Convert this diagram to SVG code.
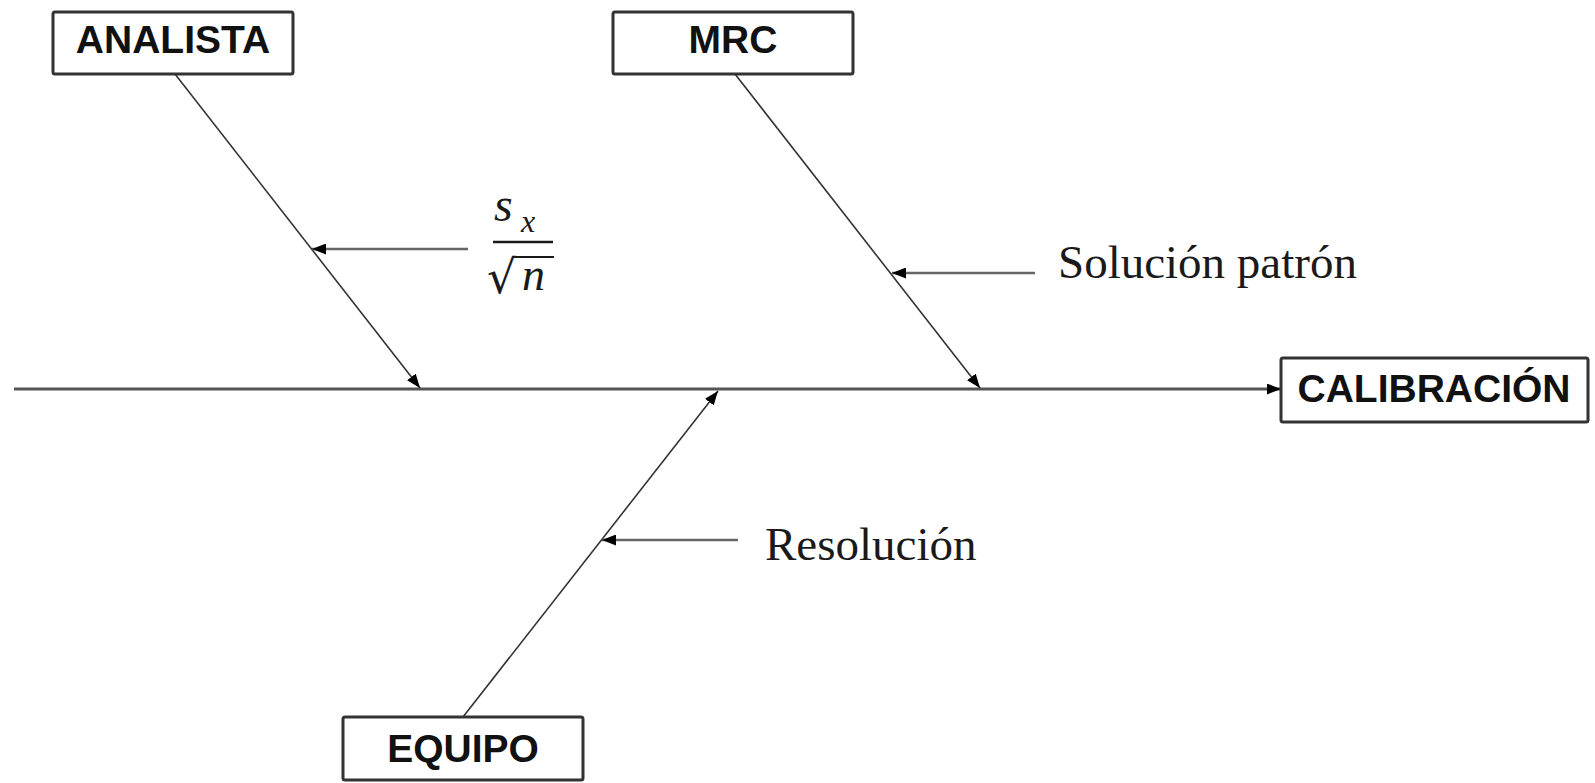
<svg xmlns="http://www.w3.org/2000/svg" width="1595" height="783" viewBox="0 0 1595 783">
<defs>
<style>
.box{fill:#fff;stroke:#333;stroke-width:3}
.lbl{font-family:"Liberation Sans",Arial,sans-serif;font-weight:bold;font-size:39px;fill:#111;text-anchor:middle}
.ser{font-family:"Liberation Serif","Times New Roman",serif;font-size:47px;fill:#1a1a1a}
.math{font-family:"Liberation Serif","Times New Roman",serif;font-style:italic;fill:#1a1a1a}
.br{stroke:#333;stroke-width:1.6;fill:none}
.main{stroke:#555;stroke-width:2.8;fill:none}
.sub{stroke:#666;stroke-width:2.4;fill:none}
</style>
<marker id="ah" viewBox="0 0 14 11" refX="14" refY="5.5" markerWidth="14" markerHeight="11" markerUnits="userSpaceOnUse" orient="auto">
<path d="M0,0 L14,5.5 L0,11 Z" fill="#000"/>
</marker>
</defs>
<rect width="1595" height="783" fill="#fff"/>
<g id="connectors">
<line class="main" x1="14" y1="389" x2="1281" y2="389" marker-end="url(#ah)"/>
<line class="br" x1="175" y1="74" x2="420" y2="388" marker-end="url(#ah)"/>
<line class="br" x1="735" y1="74" x2="980" y2="388" marker-end="url(#ah)"/>
<line class="br" x1="463" y1="717" x2="718" y2="391" marker-end="url(#ah)"/>
<line class="sub" x1="468" y1="249" x2="312" y2="249" marker-end="url(#ah)"/>
<line class="sub" x1="1035" y1="273" x2="892" y2="273" marker-end="url(#ah)"/>
<line class="sub" x1="738" y1="540" x2="602" y2="540" marker-end="url(#ah)"/>
</g>
<g id="analista">
<rect class="box" x="53" y="12" width="240" height="62" rx="2"/>
<text class="lbl" x="173" y="53">ANALISTA</text>
</g>
<g id="mrc">
<rect class="box" x="613" y="12" width="240" height="62" rx="2"/>
<text class="lbl" x="733" y="53">MRC</text>
</g>
<g id="calibracion">
<rect class="box" x="1281" y="358" width="307" height="64" rx="2"/>
<text class="lbl" x="1434" y="402">CALIBRACIÓN</text>
</g>
<g id="equipo">
<rect class="box" x="343" y="717" width="240" height="63" rx="2"/>
<text class="lbl" x="463" y="762">EQUIPO</text>
</g>
<g id="label-sx">
<text class="math" x="494" y="221" font-size="48">s</text>
<text class="math" x="521" y="232" font-size="32">x</text>
<line x1="493" y1="242" x2="553" y2="242" stroke="#1a1a1a" stroke-width="2.4"/>
<text x="487" y="293" font-family="'DejaVu Serif',serif" font-size="46" fill="#1a1a1a">√</text>
<line x1="513" y1="257" x2="554" y2="257" stroke="#1a1a1a" stroke-width="2.2"/>
<text class="math" x="522" y="290" font-size="46">n</text>
</g>
<g id="label-solucion">
<text class="ser" x="1058" y="278">Solución patrón</text>
</g>
<g id="label-resolucion">
<text class="ser" x="765" y="560">Resolución</text>
</g>
</svg>
